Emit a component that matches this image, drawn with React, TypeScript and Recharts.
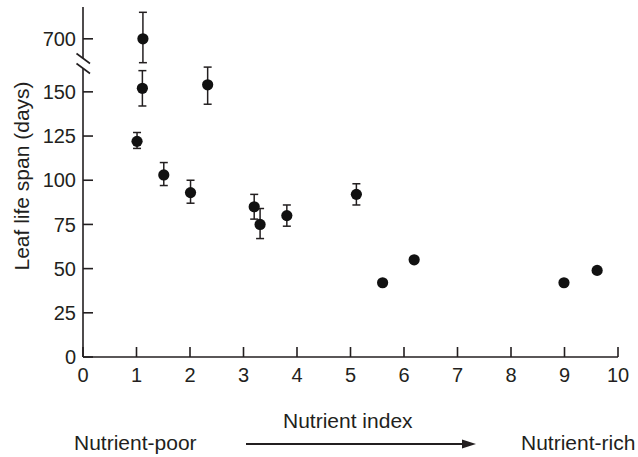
// Leaf life span vs. nutrient index, with a broken y axis (150 -> 700 days).

import { ScatterChart, Scatter, ErrorBar, XAxis, YAxis } from "recharts";

const INK = "#231f20";
const FONT = "'Liberation Sans', Arial, sans-serif";

// values
const xIndex = [1.12, 1.11, 1.01, 2.33, 1.51, 2.01, 3.2, 3.31, 3.81, 5.11, 5.6, 6.19, 8.99, 9.61];
const lifeSpan = [700, 152, 122, 154, 103, 93, 85, 75, 80, 92, 42, 55, 42, 49];
const errLow: (number | null)[] = [655, 142, 118, 143, 97, 87, 78, 67, 74, 86, null, null, null, null];
const errHigh: (number | null)[] = [750, 162, 127, 164, 110, 100, 92, 84, 86, 98, null, null, null, null];

const xTicks = [0, 1, 2, 3, 4, 5, 6, 7, 8, 9, 10];
const yTickValues = [0, 25, 50, 75, 100, 125, 150, 700];

// broken axis: everything above the break is squeezed into a short band
const BREAK_FROM = 400;
const UPPER_REF = 700;
const UPPER_AT = 180;
const UPPER_SCALE = 0.3;
const toAxis = (v: number) => (v < BREAK_FROM ? v : UPPER_AT + (v - UPPER_REF) * UPPER_SCALE);
const fromAxis = (t: number) => (t > 170 ? UPPER_REF + (t - UPPER_AT) / UPPER_SCALE : t);

const points = xIndex.map((x, i) => {
    const y = toAxis(lifeSpan[i]);
    const lo = errLow[i];
    const hi = errHigh[i];
    return {
        x,
        y,
        err: lo == null || hi == null ? null : [y - toAxis(lo), toAxis(hi) - y],
    };
});
const withErr = points.filter((p) => p.err);
const noErr = points.filter((p) => !p.err);

const Dot = (props: any) => <circle cx={props.cx} cy={props.cy} r={5.6} fill="#111" />;

const tickStyle = { fontSize: 20, fill: INK, fontFamily: FONT };

export default function App() {
    return (
        <div style={{ position: "absolute", left: 0, top: 0, width: 638, height: 457, background: "#fff" }}>
            <ScatterChart width={638} height={457} margin={{ top: 7, right: 20, bottom: 70, left: 0 }}>
                <XAxis
                    type="number"
                    dataKey="x"
                    domain={[0, 10]}
                    ticks={xTicks}
                    height={30}
                    tickSize={-10}
                    tickMargin={21}
                    tick={tickStyle}
                    axisLine={{ stroke: INK, strokeWidth: 1.6 }}
                    tickLine={{ stroke: INK, strokeWidth: 1.6 }}
                />
                <YAxis
                    type="number"
                    dataKey="y"
                    domain={[0, 198]}
                    ticks={yTickValues.map(toAxis)}
                    tickFormatter={(t: number) => String(Math.round(fromAxis(t)))}
                    width={83}
                    tickSize={-10}
                    tickMargin={17}
                    tick={tickStyle}
                    axisLine={{ stroke: INK, strokeWidth: 1.6 }}
                    tickLine={{ stroke: INK, strokeWidth: 1.6 }}
                />
                <Scatter data={withErr} shape={Dot} isAnimationActive={false}>
                    <ErrorBar dataKey="err" direction="y" width={4} stroke={INK} strokeWidth={1.5} />
                </Scatter>
                <Scatter data={noErr} shape={Dot} isAnimationActive={false} />
            </ScatterChart>
            <svg
                width={638}
                height={457}
                style={{ position: "absolute", left: 0, top: 0, pointerEvents: "none" }}
                fontFamily={FONT}
            >
                {/* axis break */}
                <rect x={80} y={58} width={6} height={10} fill="#fff" />
                <line x1={76.5} y1={53.5} x2={90} y2={63.5} stroke={INK} strokeWidth={1.6} />
                <line x1={76.5} y1={63.5} x2={90} y2={73.5} stroke={INK} strokeWidth={1.6} />

                <text x={29} y={176} fontSize={21} fill={INK} textAnchor="middle" transform="rotate(-90 29 176)">
                    Leaf life span (days)
                </text>

                <text x={283} y={428} fontSize={21} fill={INK}>Nutrient index</text>
                <text x={74} y={450} fontSize={21} fill={INK}>Nutrient-poor</text>
                <text x={521} y={450} fontSize={21} fill={INK}>Nutrient-rich</text>
                <line x1={246} y1={444} x2={466} y2={444} stroke={INK} strokeWidth={2} />
                <polygon points="476,444 462,439.5 462,448.5" fill={INK} />
            </svg>
        </div>
    );
}
